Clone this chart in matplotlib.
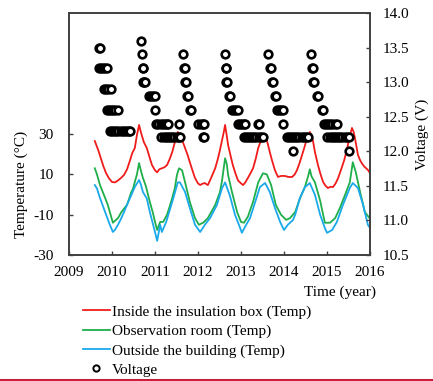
import numpy as np
import matplotlib
matplotlib.use("Agg")
import matplotlib.pyplot as plt
from matplotlib.lines import Line2D

plt.rcParams['font.family'] = ['Liberation Serif', 'DejaVu Serif']
plt.rcParams['font.size'] = 11
plt.rcParams['axes.unicode_minus'] = False

# temperature inside the insulation box
red_year = [2009.60, 2009.68, 2009.74, 2009.80, 2009.86, 2009.93, 2010.00, 2010.07, 2010.14, 2010.21,
            2010.28, 2010.35, 2010.42, 2010.47, 2010.53, 2010.58, 2010.63, 2010.67, 2010.74, 2010.81,
            2010.88, 2010.93, 2011.00, 2011.05, 2011.10, 2011.16, 2011.22, 2011.28, 2011.34, 2011.40,
            2011.45, 2011.49, 2011.53, 2011.58, 2011.64, 2011.70, 2011.76, 2011.81, 2011.87, 2011.93,
            2012.00, 2012.05, 2012.10, 2012.16, 2012.20, 2012.23, 2012.30, 2012.35, 2012.40, 2012.46,
            2012.51, 2012.56, 2012.60, 2012.63, 2012.67, 2012.70, 2012.76, 2012.81, 2012.87, 2012.93,
            2013.00, 2013.05, 2013.10, 2013.16, 2013.22, 2013.28, 2013.34, 2013.40, 2013.45, 2013.49,
            2013.56, 2013.60, 2013.63, 2013.67, 2013.72, 2013.79, 2013.86, 2013.93, 2014.02, 2014.10,
            2014.19, 2014.25, 2014.30, 2014.36, 2014.42, 2014.47, 2014.51, 2014.56, 2014.60, 2014.64,
            2014.67, 2014.72, 2014.79, 2014.85, 2014.91, 2014.96, 2015.02, 2015.08, 2015.14, 2015.20,
            2015.26, 2015.33, 2015.40, 2015.46, 2015.51, 2015.58, 2015.62, 2015.65, 2015.72, 2015.77,
            2015.81, 2015.86, 2015.91, 2015.96, 2016.00]
red_temp = [26.5, 22, 18, 14, 10.7, 8, 6.2, 6, 7, 8.2,
            9.7, 12.5, 17, 20.5, 23, 29.5, 34.5, 31, 26, 23,
            18, 14.6, 12, 11, 12.5, 13, 13.5, 14.6, 17.5, 21,
            25, 28, 31, 29, 26.5, 23, 19.5, 16, 12, 8.2,
            5.5, 4.7, 5.3, 5.7, 5, 4.7, 8, 10.5, 13, 17.5,
            22, 27, 31, 34.5, 29, 24.5, 19, 14.6, 10.5, 7,
            5.5, 4.7, 6, 8.2, 10.5, 13, 17.5, 23, 26, 28,
            29.5, 27, 24.5, 21, 17, 12, 8.7, 9.2, 9.2, 8.7,
            8.7, 10, 12, 15.5, 19.6, 23, 26, 28.5, 31, 29.5,
            27, 21, 14.6, 10, 6.2, 4.5, 3.2, 3.8, 3.7, 5.5,
            8.2, 12.5, 17, 22, 27, 33, 31, 28, 19.6, 17,
            15.5, 14, 13, 12, 10.5]

# observation room
green_year = [2009.60, 2009.65, 2009.72, 2009.79, 2009.84, 2009.90, 2009.95, 2010.02, 2010.07, 2010.14,
              2010.21, 2010.28, 2010.35, 2010.44, 2010.49, 2010.53, 2010.58, 2010.63, 2010.67, 2010.72,
              2010.79, 2010.88, 2010.95, 2011.00, 2011.05, 2011.12, 2011.19, 2011.28, 2011.34, 2011.40,
              2011.46, 2011.51, 2011.56, 2011.63, 2011.70, 2011.81, 2011.93, 2012.02, 2012.12, 2012.23,
              2012.30, 2012.40, 2012.51, 2012.56, 2012.63, 2012.67, 2012.70, 2012.79, 2012.91, 2013.00,
              2013.07, 2013.16, 2013.28, 2013.40, 2013.51, 2013.60, 2013.70, 2013.81, 2013.93, 2014.05,
              2014.14, 2014.26, 2014.37, 2014.49, 2014.56, 2014.60, 2014.64, 2014.72, 2014.84, 2014.95,
              2015.07, 2015.19, 2015.30, 2015.42, 2015.53, 2015.60, 2015.67, 2015.77, 2015.88, 2016.00]
green_temp = [13, 10, 4.7, 1, -1.7, -5, -8.7, -14, -13, -11.7,
              -9, -7, -5.2, 0.7, 3, 6.2, 10, 15.6, 12, 8.2,
              4, -3.7, -9, -13.6, -17.6, -13.6, -13.6, -10, -6, -1.7,
              3, 9.7, 13, 12, 6, -3.7, -11.7, -15, -14, -11.7,
              -9, -5.2, 1.2, 7, 18, 15, 9.7, 1.2, -8.7, -13.6,
              -14, -11, -3.7, 6, 10.5, 10, 4.7, -5.2, -10, -12.6,
              -11.7, -8.7, -2, 4, 9, 12.5, 9, 6, -3, -14,
              -14, -11.7, -6.7, -0.2, 6, 16, 11, 1.2, -8.7, -12]

# outside the building
blue_year = [2009.60, 2009.65, 2009.72, 2009.84, 2009.95, 2010.02, 2010.07, 2010.14, 2010.21, 2010.28,
             2010.35, 2010.42, 2010.53, 2010.63, 2010.67, 2010.72, 2010.81, 2010.88, 2011.00, 2011.05,
             2011.12, 2011.16, 2011.26, 2011.40, 2011.53, 2011.58, 2011.70, 2011.81, 2011.93, 2012.05,
             2012.16, 2012.28, 2012.44, 2012.56, 2012.63, 2012.74, 2012.86, 2012.98, 2013.02, 2013.12,
             2013.21, 2013.33, 2013.44, 2013.56, 2013.67, 2013.79, 2013.91, 2014.00, 2014.09, 2014.21,
             2014.26, 2014.37, 2014.49, 2014.60, 2014.72, 2014.84, 2014.95, 2015.00, 2015.12, 2015.23,
             2015.37, 2015.53, 2015.60, 2015.72, 2015.84, 2015.95, 2016.00]
blue_temp = [4.7, 3, -1.7, -8.7, -15, -18.6, -17.5, -15, -12, -8.7,
             -5, -1.7, 3.7, 7.2, 5, 1.2, -2, -8.7, -18.6, -23,
             -15, -18.6, -13.6, -3.7, 6, 6, 1.2, -6.7, -15, -18.6,
             -15, -11.7, -5.2, 3.2, 6, -0.5, -10, -16.6, -19, -15,
             -11.7, -3.7, 3.7, 5.7, 1.2, -6.7, -13.6, -17.6, -15, -12.6,
             -10, -1.7, 3.7, 5.7, -0.2, -10, -16.6, -19, -17.6, -13.6,
             -5.2, 3.2, 5.7, 3.2, -5.2, -15, -16.6]

# battery voltage readings, one row of the chart per line
volt_year = [
    2009.70, 2009.73,
    2009.70, 2009.74, 2009.78, 2009.83, 2009.88,
    2009.81, 2009.86, 2009.91, 2009.97,
    2009.88, 2009.93, 2009.98, 2010.02, 2010.08, 2010.14,
    2009.95, 2010.00, 2010.05, 2010.10, 2010.15, 2010.20, 2010.25, 2010.30, 2010.35, 2010.40, 2010.42,
    2010.67, 2010.69, 2010.71, 2010.72, 2010.74, 2010.72, 2010.77,
    2010.85, 2010.90, 2010.95, 2011.01, 2011.00,
    2011.03, 2011.08, 2011.13, 2011.18, 2011.23, 2011.28, 2011.31, 2011.56,
    2011.15, 2011.20, 2011.25, 2011.30, 2011.35, 2011.40, 2011.45, 2011.50, 2011.55, 2011.59,
    2011.65, 2011.67, 2011.69, 2011.70, 2011.72, 2011.74, 2011.76, 2011.81, 2011.83,
    2012.01, 2012.06, 2012.11, 2012.15, 2012.12, 2012.14,
    2012.63, 2012.64, 2012.66, 2012.66, 2012.68, 2012.72, 2012.74,
    2012.78, 2012.83, 2012.88, 2012.92,
    2012.92, 2012.97, 2013.02, 2013.06, 2013.10, 2013.40, 2013.42,
    2013.06, 2013.11, 2013.16, 2013.21, 2013.26, 2013.31, 2013.36, 2013.41, 2013.46, 2013.52,
    2013.63, 2013.67, 2013.69, 2013.72, 2013.74, 2013.79, 2013.81,
    2013.83, 2013.88, 2013.93, 2013.97, 2013.98,
    2014.06, 2014.11, 2014.16, 2014.21, 2014.26, 2014.31, 2014.36, 2014.41, 2014.46, 2014.51, 2014.55,
    2014.21,
    2014.63, 2014.65, 2014.67, 2014.67, 2014.69, 2014.77, 2014.79, 2014.88, 2014.90,
    2014.92, 2014.97, 2015.02, 2015.07, 2015.12, 2015.19, 2015.24,
    2015.01, 2015.06, 2015.11, 2015.16, 2015.21, 2015.26, 2015.31, 2015.36, 2015.41, 2015.46, 2015.50,
    2015.51]
volt_v = [
    13.5, 13.5,
    13.2, 13.2, 13.2, 13.2, 13.2,
    12.9, 12.9, 12.9, 12.9,
    12.6, 12.6, 12.6, 12.6, 12.6, 12.6,
    12.3, 12.3, 12.3, 12.3, 12.3, 12.3, 12.3, 12.3, 12.3, 12.3, 12.3,
    13.6, 13.4, 13.2, 13.2, 13.0, 13.0, 13.0,
    12.8, 12.8, 12.8, 12.8, 12.6,
    12.4, 12.4, 12.4, 12.4, 12.4, 12.4, 12.4, 12.4,
    12.2, 12.2, 12.2, 12.2, 12.2, 12.2, 12.2, 12.2, 12.2, 12.2,
    13.4, 13.2, 13.2, 13.0, 13.0, 12.8, 12.8, 12.6, 12.6,
    12.4, 12.4, 12.4, 12.4, 12.2, 12.2,
    13.4, 13.2, 13.2, 13.0, 13.0, 12.8, 12.8,
    12.6, 12.6, 12.6, 12.6,
    12.4, 12.4, 12.4, 12.4, 12.4, 12.4, 12.4,
    12.2, 12.2, 12.2, 12.2, 12.2, 12.2, 12.2, 12.2, 12.2, 12.2,
    13.4, 13.2, 13.2, 13.0, 13.0, 12.8, 12.8,
    12.6, 12.6, 12.6, 12.6, 12.4,
    12.2, 12.2, 12.2, 12.2, 12.2, 12.2, 12.2, 12.2, 12.2, 12.2, 12.2,
    12.0,
    13.4, 13.2, 13.2, 13.0, 13.0, 12.8, 12.8, 12.6, 12.6,
    12.4, 12.4, 12.4, 12.4, 12.4, 12.4, 12.4,
    12.2, 12.2, 12.2, 12.2, 12.2, 12.2, 12.2, 12.2, 12.2, 12.2, 12.2,
    12.0]

year_ticks = [2009, 2010, 2011, 2012, 2013, 2014, 2015, 2016]
temp_ticks = [-30, -10, 10, 30]
volt_ticks = [10.5, 11.0, 11.5, 12.0, 12.5, 13.0, 13.5, 14.0]

RED = '#f01c1c'
GREEN = '#1fae4a'
BLUE = '#1aa9ea'
FRAME = '#404040'

fig = plt.figure(figsize=(4.33, 3.81), dpi=100)
ax = fig.add_axes([69/433, 1-255/381, 301/433, 242/381])
ax2 = ax.twinx()

ax.plot(red_year, red_temp, color=RED, lw=1.3)
ax.plot(green_year, green_temp, color=GREEN, lw=1.3)
ax.plot(blue_year, blue_temp, color=BLUE, lw=1.3)

ax2.plot(volt_year, volt_v, ls='none', marker='o', ms=5.5, mew=1.9,
         mfc='white', mec='black')

ax.set_xlim(2009, 2016)
ax.set_ylim(-30, 90)
ax.set_xticks(year_ticks)
ax.set_yticks(temp_ticks)
ax2.set_ylim(10.5, 14.0)
ax2.set_yticks(volt_ticks)
ax2.set_yticklabels(['%.1f' % v for v in volt_ticks])

for a in (ax, ax2):
    for s in a.spines.values():
        s.set_color(FRAME)
        s.set_linewidth(1.2)
ax.tick_params(axis='both', direction='in', length=3, width=1, color=FRAME, labelsize=11)
ax.tick_params(axis='x', pad=8)
ax.tick_params(axis='y', pad=11)
ax2.tick_params(axis='y', direction='in', length=3, width=1, color=FRAME, labelsize=11, pad=9)

ax.set_ylabel('Temperature (°C)', fontsize=11)
ax.yaxis.set_label_coords(-0.135, 0.29)
ax2.set_ylabel('Voltage (V)', fontsize=11)
ax2.yaxis.set_label_coords(1.15, 0.5)
fig.text(376/433, 1-292/381, 'Time (year)', ha='right', va='center', fontsize=11)

handles = [Line2D([], [], color=RED, lw=1.3),
           Line2D([], [], color=GREEN, lw=1.3),
           Line2D([], [], color=BLUE, lw=1.3),
           Line2D([], [], ls='none', marker='o', ms=4.5, mew=1.4, mfc='white', mec='black')]
labels = ['Inside the insulation box (Temp)', 'Observation room (Temp)',
          'Outside the building (Temp)', 'Voltage']
fig.legend(handles, labels, loc='upper left', bbox_to_anchor=(83/433, 1-305/381),
           frameon=False, fontsize=11, handlelength=1.75, handletextpad=0.15,
           labelspacing=0.36, borderpad=0, borderaxespad=0)

# thin crimson rule along the bottom edge
fig.add_artist(Line2D([0, 1], [1.5/381, 1.5/381], color='#c8203c', lw=1.5,
                      transform=fig.transFigure))

fig.savefig('out.png', dpi=100)
